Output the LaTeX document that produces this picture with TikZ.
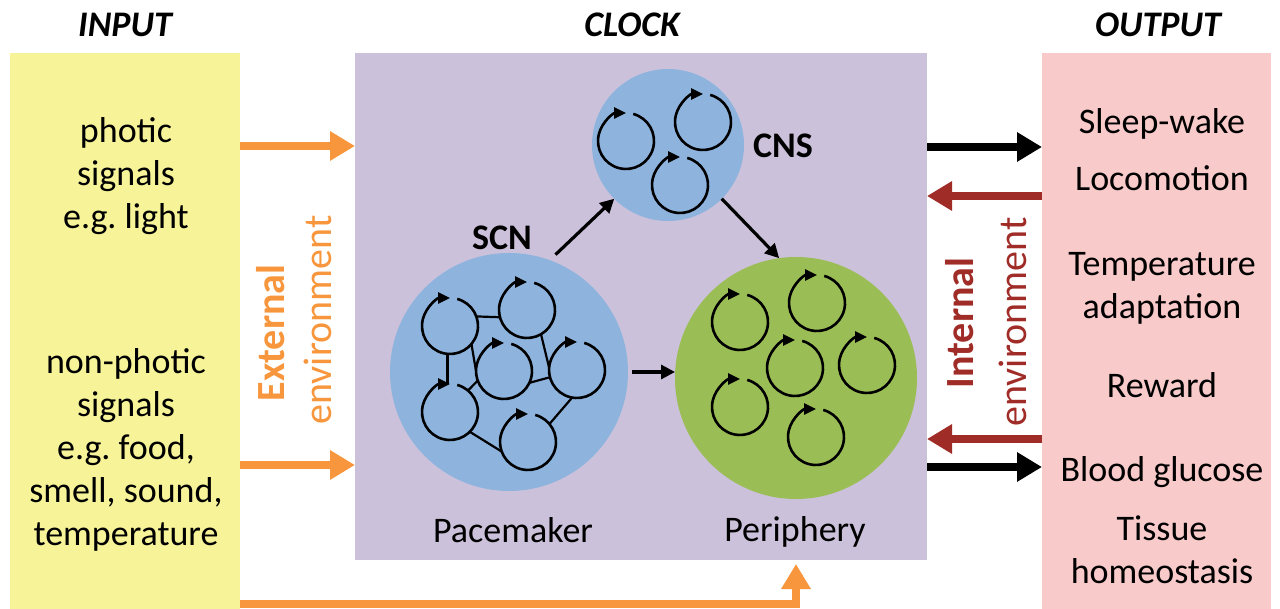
\documentclass[tikz,border=0pt]{standalone}
\usepackage{fontspec}
\setmainfont{Carlito}
\usetikzlibrary{arrows.meta,calc}
\frenchspacing
\definecolor{inyellow}{RGB}{247,243,152}
\definecolor{clockpurple}{RGB}{204,193,218}
\definecolor{outpink}{RGB}{248,202,202}
\definecolor{scnblue}{RGB}{142,180,222}
\definecolor{pergreen}{RGB}{155,189,85}
\definecolor{inorange}{RGB}{247,150,60}
\definecolor{outred}{RGB}{160,44,40}
% one oscillator: a ring with a clockwise arrow closing at the top
\newcommand\oscil[3]{%
  \node[osc] (#1) at (#2,#3) {};
  \draw[oscline] (#1.75) arc[start angle=-75, end angle=270, radius=28];
}
\begin{document}
\begin{tikzpicture}[x=1pt,y=-1pt,
  box/.style={draw=none, inner sep=0pt, outer sep=0pt, anchor=north west},
  txt/.style={font=\fontsize{36}{43}\selectfont, align=center, inner sep=0pt},
  lab/.style={font=\fontsize{36}{43}\selectfont, inner sep=0pt},
  blab/.style={font=\fontsize{36}{43}\selectfont\bfseries, inner sep=0pt},
  head/.style={font=\fontsize{36}{43}\selectfont\bfseries\itshape, inner sep=0pt},
  vlab/.style={font=\fontsize{40}{48}\selectfont, rotate=90, inner sep=0pt},
  vbold/.style={font=\fontsize{40}{48}\selectfont\bfseries, rotate=90, inner sep=0pt},
  big/.style={circle, inner sep=0pt, outer sep=0pt, draw=none},
  osc/.style={circle, inner sep=0pt, outer sep=0pt, minimum size=56pt},
  oscline/.style={line width=2.6pt, -{Triangle[length=12pt, width=11pt]}},
  link/.style={line width=2.2pt},
  clockarrow/.style={line width=3.2pt, -{Triangle[length=14pt, width=14pt]}},
  fat/.style={line width=8pt, -{Triangle[length=25pt, width=28pt]}},
]
\useasboundingbox (0,0) rectangle (1280,609);
\fill[white] (0,0) rectangle (1280,609);

% panels
\node[box, fill=inyellow, minimum width=230pt, minimum height=556pt] (inbox) at (10,53) {};
\node[box, fill=clockpurple, minimum width=572pt, minimum height=507pt] (clockbox) at (355,53) {};
\node[box, fill=outpink, minimum width=229pt, minimum height=556pt] (outbox) at (1042,53) {};

% headings
\node[head] (hin) at (125,25) {INPUT};
\node[head] (hclock) at (632,25) {CLOCK};
\node[head] (hout) at (1158,25) {OUTPUT};

% inputs
\node[txt] (photic) at (126,176) {photic\\signals\\e.g. light};
\node[txt] (nonphotic) at (126,450) {non-photic\\signals\\e.g. food,\\smell, sound,\\temperature};

% outputs
\node[txt] (sleep) at (1162,124) {Sleep-wake};
\node[txt] (loco) at (1162,178) {Locomotion};
\node[txt] (temp) at (1162,288) {Temperature\\adaptation};
\node[txt] (reward) at (1162,385) {Reward};
\node[txt] (glucose) at (1162,472) {Blood glucose};
\node[txt] (tissue) at (1162,550) {Tissue\\homeostasis};

% environment labels
\node[vbold, text=inorange] (ext) at (271,333) {External};
\node[vlab, text=inorange] (extenv) at (318,320) {environment};
\node[vbold, text=outred] (int) at (960,323) {Internal};
\node[vlab, text=outred] (intenv) at (1013,322) {environment};

% clock compartments
\node[big, fill=scnblue, minimum size=238pt] (scn) at (509,372) {};
\node[big, fill=scnblue, minimum size=152pt] (cns) at (668,145) {};
\node[big, fill=pergreen, minimum size=242pt] (per) at (796,378) {};

\node[blab] (scnlab) at (502,238) {SCN};
\node[blab] (cnslab) at (783,146) {CNS};
\node[lab] (pace) at (513,530) {Pacemaker};
\node[lab] (perlab) at (795,532) {Periphery};

% SCN network
\oscil{s1}{450}{326}
\oscil{s2}{527}{310}
\oscil{s3}{504}{371}
\oscil{s4}{577}{370}
\oscil{s5}{450}{412}
\oscil{s6}{528}{442}
\draw[link] (s1.20) -- (s2.195);
\draw[link] (s1.-95) -- (s5.95);
\draw[link] (s1.-40) -- (s3.180);
\draw[link] (s5.50) -- (s3.200);
\draw[link] (s3.-25) -- (s4.195);
\draw[link] (s2.-60) -- (s4.175);
\draw[link] (s5.-45) -- (s6.200);
\draw[link] (s6.40) -- (s4.-100);

% CNS oscillators
\oscil{n1}{626}{141}
\oscil{n2}{703}{122}
\oscil{n3}{680}{185}

% peripheral oscillators
\oscil{p1}{740}{322}
\oscil{p2}{817}{303}
\oscil{p3}{795}{368}
\oscil{p4}{867}{365}
\oscil{p5}{740}{407}
\oscil{p6}{816}{437}

% coupling inside the clock
\draw[clockarrow, shorten <=8pt] (scn.70) -- (cns.225);
\draw[clockarrow] (cns.-45) -- (per.98);
\draw[clockarrow, shorten <=4pt] (scn.east) -- (scn.east -| per.west);

% input arrows
\draw[fat, inorange] (inbox.east |- 0,146) -- (clockbox.west |- 0,146);
\draw[fat, inorange] (inbox.east |- 0,465) -- (clockbox.west |- 0,465);
\draw[fat, inorange, shorten >=4pt] (inbox.east |- 0,604) -| (per |- clockbox.south);

% output and feedback arrows
\draw[fat] (clockbox.east |- 0,147) -- (outbox.west |- 0,147);
\draw[fat, outred] (outbox.west |- 0,196) -- (clockbox.east |- 0,196);
\draw[fat, outred] (outbox.west |- 0,439) -- (clockbox.east |- 0,439);
\draw[fat] (clockbox.east |- 0,467) -- (outbox.west |- 0,467);
\end{tikzpicture}
\end{document}
